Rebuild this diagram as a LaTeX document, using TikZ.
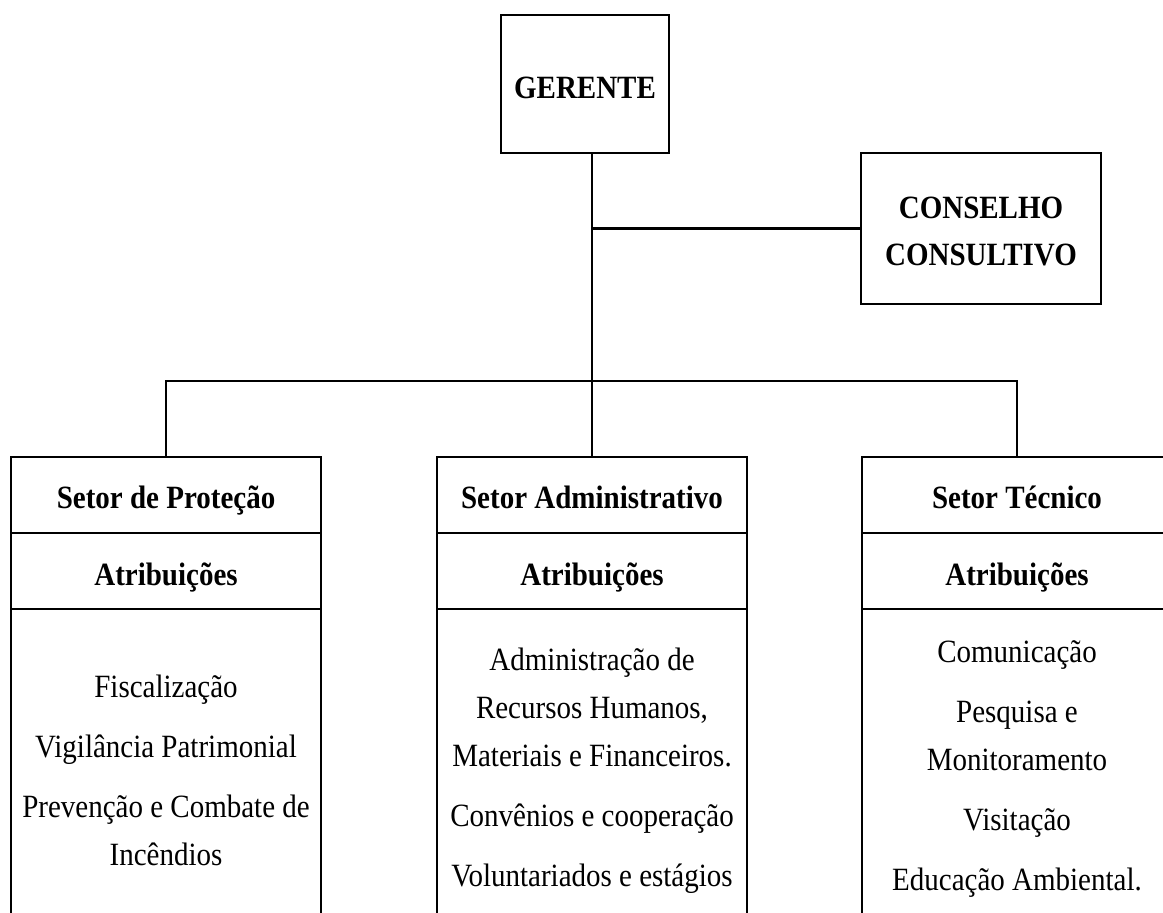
\documentclass[tikz,border=0pt]{standalone}
\usepackage{fontspec}
\usepackage{graphicx}
\setmainfont{Liberation Serif}
\newcommand{\tall}[1]{\scalebox{1}[1.12]{#1}}
\begin{document}
\begin{tikzpicture}[x=1pt,y=-1pt,line width=2.2pt,
  frame/.style={draw,line width=2.2pt,inner sep=0pt,outer sep=0pt},
  cell/.style={frame,minimum width=310pt,minimum height=76pt},
  bodycell/.style={frame,minimum width=310pt,minimum height=331pt},
  txt/.style={anchor=base,inner sep=0pt,font=\fontsize{29}{35}\selectfont},
  hd/.style={txt,font=\fontsize{29}{35}\selectfont\bfseries}]
\useasboundingbox (0,0) rectangle (1163,913);
\clip (0,0) rectangle (1163,913);
% top boxes
\node[frame,minimum width=168pt,minimum height=138pt] (ger) at (585,84) {};
\node[hd] (gert) at (585,98) {\tall{GERENTE}};
\node[frame,minimum width=240pt,minimum height=151pt] (cons) at (981,228.5) {};
\node[hd] (cons1) at (981,218) {\tall{CONSELHO}};
\node[hd] (cons2) at (981,265) {\tall{CONSULTIVO}};
% columns
\node[cell] (proh) at (166,495) {};
\node[cell] (proa) at (166,571) {};
\node[bodycell] (prob) at (166,774.5) {};
\node[cell] (admh) at (592,495) {};
\node[cell] (adma) at (592,571) {};
\node[bodycell] (admb) at (592,774.5) {};
\node[cell] (tech) at (1017,495) {};
\node[cell] (teca) at (1017,571) {};
\node[bodycell] (tecb) at (1017,774.5) {};
% headers
\node[hd] (proht) at (166,508) {\tall{Setor de Proteção}};
\node[hd] (proat) at (166,585) {\tall{Atribuições}};
\node[hd] (admht) at (592,508) {\tall{Setor Administrativo}};
\node[hd] (admat) at (592,585) {\tall{Atribuições}};
\node[hd] (techt) at (1017,508) {\tall{Setor Técnico}};
\node[hd] (tecat) at (1017,585) {\tall{Atribuições}};
% body texts
\node[txt] (p1) at (166,697) {\tall{Fiscalização}};
\node[txt] (p2) at (166,757) {\tall{Vigilância Patrimonial}};
\node[txt] (p3) at (166,817) {\tall{Prevenção e Combate de}};
\node[txt] (p4) at (166,865) {\tall{Incêndios}};
\node[txt] (a1) at (592,670) {\tall{Administração de}};
\node[txt] (a2) at (592,718) {\tall{Recursos Humanos,}};
\node[txt] (a3) at (592,766) {\tall{Materiais e Financeiros.}};
\node[txt] (a4) at (592,826) {\tall{Convênios e cooperação}};
\node[txt] (a5) at (592,886) {\tall{Voluntariados e estágios}};
\node[txt] (t1) at (1017,662) {\tall{Comunicação}};
\node[txt] (t2) at (1017,722) {\tall{Pesquisa e}};
\node[txt] (t3) at (1017,770) {\tall{Monitoramento}};
\node[txt] (t4) at (1017,830) {\tall{Visitação}};
\node[txt] (t5) at (1017,890) {\tall{Educação Ambiental.}};
% connectors
\draw (ger.south -| admh.north) -- (admh.north);
\coordinate (jc) at (admh.north |- cons.west);
\draw (jc) -- (cons.west);
\coordinate (bus) at (592,381);
\draw (proh.north) |- (bus) -| (tech.north);
\end{tikzpicture}
\end{document}
